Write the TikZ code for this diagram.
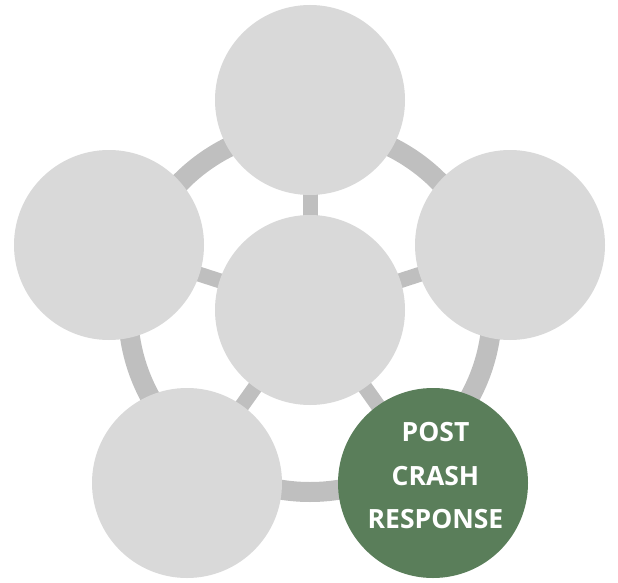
\documentclass[tikz,border=0pt]{standalone}
\usepackage{fontspec}
\setmainfont{Open Sans}
\definecolor{circgray}{HTML}{D9D9D9}
\definecolor{linkgray}{HTML}{BFBFBF}
\definecolor{crashgreen}{HTML}{5A7E5A}
\pgfdeclarelayer{bg}
\pgfsetlayers{bg,main}
\begin{document}
\begin{tikzpicture}[x=1pt,y=-1pt,
  ball/.style={circle, fill=circgray, minimum size=190pt, inner sep=0pt},
  greenball/.style={ball, fill=crashgreen},
  link/.style={draw=linkgray, line width=15pt},
  ring/.style={draw=linkgray, line width=20pt},
  lbltext/.style={text=white, align=center, font=\fontsize{26.5}{43.5}\selectfont\bfseries}]
\useasboundingbox (0,0) rectangle (618,583);
\node[ball] (c) at (310,310) {};
\node[ball] (t) at (310,100) {};
\node[ball] (l) at (109,245) {};
\node[ball] (r) at (510,245) {};
\node[ball] (bl) at (187,483) {};
\node[greenball] (br) at (433,483) {};
\node[lbltext] (lbl) at (435.5,476) {POST\\CRASH\\RESPONSE};
\begin{pgfonlayer}{bg}
  \draw[ring] (c.center) circle[radius=182pt];
  \foreach \n in {t,l,r,bl,br} \draw[link] (c.center) -- (\n.center);
\end{pgfonlayer}
\end{tikzpicture}
\end{document}
